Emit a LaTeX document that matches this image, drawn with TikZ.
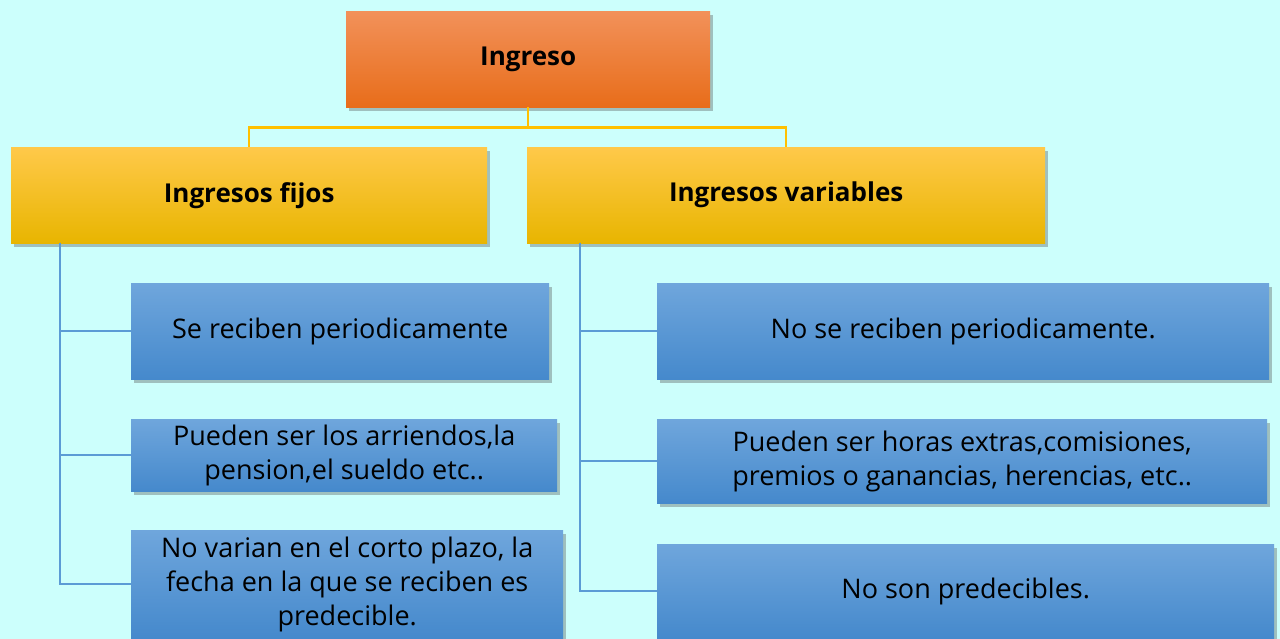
\documentclass[tikz,border=0pt]{standalone}
\usepackage{fontspec}
\setmainfont{Open Sans}
\usepackage{tikz}
\usetikzlibrary{
  positioning,
  shadows,
  calc
}
\usepackage{xcolor}
\definecolor{paleCyan}{rgb}{0.8,1,0.99}
\definecolor{orangeTop}{rgb}{0.949,0.569,0.353}
\definecolor{orangeMid}{rgb}{0.957,0.490,0.165}
\definecolor{orangeBot}{rgb}{0.910,0.427,0.102}
\definecolor{goldTop}{rgb}{1,0.788,0.290}
\definecolor{goldMid}{rgb}{1,0.769,0}
\definecolor{goldBot}{rgb}{0.910,0.710,0}
\definecolor{skyTop}{rgb}{0.435,0.651,0.863}
\definecolor{skyBot}{rgb}{0.271,0.537,0.800}
\definecolor{linkBlue}{rgb}{0.357,0.608,0.835}
\definecolor{linkGold}{rgb}{1,0.753,0}
\tikzset{
  card/.style={
    anchor=north west,
    inner sep=0pt,
    align=center,
    drop shadow={shadow xshift=3pt,shadow yshift=-4pt,opacity=0.35,fill=black!70}
  },
  rootbox/.style={
    card,
    top color=orangeTop,
    middle color=orangeMid,
    bottom color=orangeBot,
    font=\fontsize{26}{32}\selectfont\bfseries
  },
  kindbox/.style={
    card,
    top color=goldTop,
    middle color=goldMid,
    bottom color=goldBot,
    font=\fontsize{26}{32}\selectfont\bfseries
  },
  itembox/.style={
    card,
    top color=skyTop,
    bottom color=skyBot,
    font=\fontsize{27}{34}\selectfont
  }
}
\begin{document}
\begin{tikzpicture}[
      x=1pt, y=-1pt,
      goldlink/.style={draw=linkGold, line width=2.5pt},
      bluelink/.style={draw=linkBlue, line width=2.5pt}
      ]
      \useasboundingbox (0,0) rectangle (1280,639);
      \clip (0,0) rectangle (1280,639);
      \fill[paleCyan] (0,0) rectangle (1280,639);

      % top and second level
      \node[rootbox, minimum width=364pt, minimum height=96pt] (ingreso) at (346,11) {Ingreso};
      \node[kindbox, minimum width=476pt, minimum height=96pt] (fijos) at (11,147) {Ingresos fijos};
      \node[kindbox, minimum width=518pt, minimum height=96pt] (variables) at (527,147) {Ingresos variables};

      % fixed income items
      \node[itembox, minimum width=418pt, minimum height=96pt] (fijoA) at (131,283)
        {Se reciben periodicamente};
      \node[itembox, minimum width=426pt, minimum height=72pt] (fijoB) at (131,419)
        {Pueden ser los arriendos,la\\pension,el sueldo etc..};
      \node[itembox, minimum width=432pt, minimum height=108pt] (fijoC) at (131,530)
        {No varian en el corto plazo, la\\fecha en la que se reciben es\\predecible.};

      % variable income items
      \node[itembox, minimum width=612pt, minimum height=96pt] (variaA) at (657,283)
        {No se reciben periodicamente.};
      \node[itembox, minimum width=610pt, minimum height=84pt] (variaB) at (657,419)
        {Pueden ser horas extras,comisiones,\\premios o ganancias, herencias, etc..};
      \node[itembox, minimum width=617pt, minimum height=94pt] (variaC) at (657,544)
        {No son predecibles.};

      \coordinate (trunkF) at (60,243);
      \coordinate (trunkV) at (580,243);

      \draw[goldlink] (ingreso.south) -- ++(0,20) -| (fijos.north);
      \draw[goldlink] (ingreso.south) -- ++(0,20) -| (variables.north);

      \foreach \i in {A,B,C}{
        \draw[bluelink] (trunkF) |- (fijo\i.west);
        \draw[bluelink] (trunkV) |- (varia\i.west);
      }
    \end{tikzpicture}
\end{document}
